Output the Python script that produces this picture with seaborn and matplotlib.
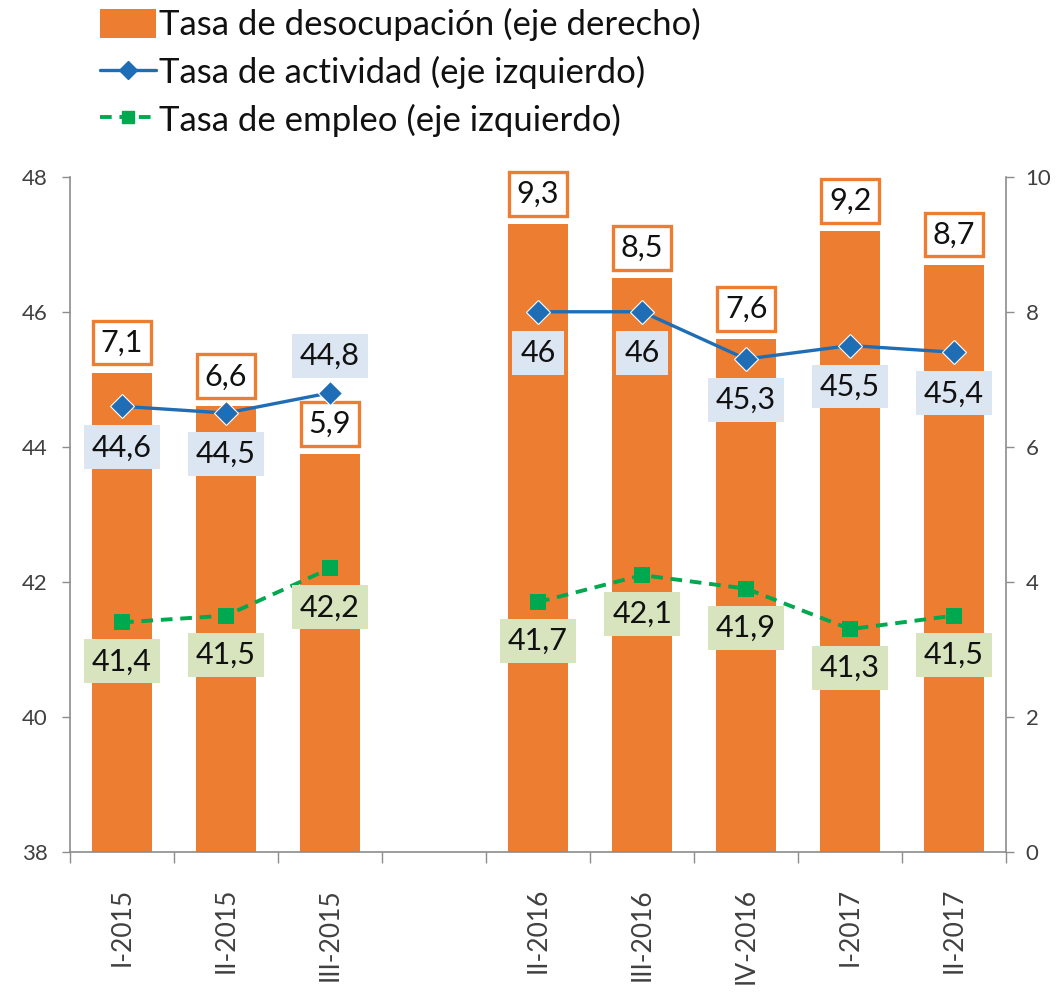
import matplotlib
matplotlib.use("Agg")
import matplotlib.pyplot as plt
from matplotlib.lines import Line2D
from matplotlib.patches import Patch
from matplotlib.ticker import FixedLocator
import pandas as pd
import seaborn as sns

# --- data ----------------------------------------------------------------
trimestres = ["I-2015", "II-2015", "III-2015",
              "II-2016", "III-2016", "IV-2016", "I-2017", "II-2017"]
desocupacion = [7.1, 6.6, 5.9, 9.3, 8.5, 7.6, 9.2, 8.7]      # eje derecho
actividad = [44.6, 44.5, 44.8, 46.0, 46.0, 45.3, 45.5, 45.4]  # eje izquierdo
empleo = [41.4, 41.5, 42.2, 41.7, 42.1, 41.9, 41.3, 41.5]     # eje izquierdo
# series break: no data between III-2015 and II-2016
tramo = [0, 0, 0, 1, 1, 1, 1, 1]
# activity label drawn above the marker instead of below
actividad_arriba = [False, False, True, False, False, False, False, False]

ticks_izq = [38, 40, 42, 44, 46, 48]
ticks_der = [0, 2, 4, 6, 8, 10]

NARANJA = "#ED7D31"
AZUL = "#1F6DB5"
VERDE = "#00A850"
GRIS = "#8C8C8C"
TEXTO = "#404040"

sns.set_style("white")
plt.rcParams["font.family"] = ["Lato", "DejaVu Sans"]

df = pd.DataFrame({
    "trimestre": trimestres,
    "desocupacion": desocupacion,
    "actividad": actividad,
    "empleo": empleo,
    "tramo": tramo,
})
# one empty slot left for the gap between the two segments
df["pos"] = df.index + df["tramo"]
n_slots = int(df["pos"].max()) + 1


def coma(v):
    return f"{v:g}".replace(".", ",")


fig = plt.figure(figsize=(10.58, 9.94), dpi=100)
ax = fig.add_axes([0.0662, 0.1429, 0.8848, 0.6793])
ax_der = ax.twinx()

# bars on the right axis, drawn behind the lines
sns.barplot(data=df, x="pos", y="desocupacion", native_scale=True,
            width=0.58, color=NARANJA, saturation=1, linewidth=0,
            ax=ax_der)

for _, grp in df.groupby("tramo"):
    sns.lineplot(data=grp, x="pos", y="actividad", color=AZUL, lw=2.4,
                 marker="D", markersize=12, markeredgecolor="white",
                 markeredgewidth=0.8, legend=False, ax=ax)
    sns.lineplot(data=grp, x="pos", y="empleo", color=VERDE, lw=2.8,
                 linestyle=(0, (3, 2)), marker="s", markersize=11,
                 markeredgewidth=0, legend=False, ax=ax)

ax.set_zorder(ax_der.get_zorder() + 1)
ax.patch.set_visible(False)

ax.set_ylim(38, 48)
ax_der.set_ylim(0, 10)
ax.set_xlim(-0.5, n_slots - 0.5)
ax_der.set_xlim(-0.5, n_slots - 0.5)

# data labels
caja = "square,pad=0.26"
for _, r in df.iterrows():
    ax_der.annotate(coma(r["desocupacion"]), (r["pos"], r["desocupacion"]),
                    xytext=(0, 30), textcoords="offset pixels",
                    ha="center", va="center", fontsize=22, color="#111111",
                    bbox=dict(boxstyle=caja, fc="white",
                              ec=NARANJA, lw=2.4), zorder=5)
for (_, r), arriba in zip(df.iterrows(), actividad_arriba):
    ax.annotate(coma(r["actividad"]), (r["pos"], r["actividad"]),
                xytext=(0, 37 if arriba else -41), textcoords="offset pixels",
                ha="center", va="center", fontsize=22, color="#111111",
                bbox=dict(boxstyle=caja, fc="#DCE6F2", ec="none"))
    ax.annotate(coma(r["empleo"]), (r["pos"], r["empleo"]),
                xytext=(0, -39), textcoords="offset pixels",
                ha="center", va="center", fontsize=22, color="#111111",
                bbox=dict(boxstyle=caja, fc="#D7E4BD", ec="none"))

# axes styling
for a in (ax, ax_der):
    for s in a.spines.values():
        s.set_visible(False)
ax.spines["left"].set_visible(True)
ax.spines["bottom"].set_visible(True)
ax_der.spines["right"].set_visible(True)
for s in (ax.spines["left"], ax.spines["bottom"], ax_der.spines["right"]):
    s.set_color(GRIS)
    s.set_linewidth(1.2)

ax.set_yticks(ticks_izq)
ax_der.set_yticks(ticks_der)
ax.tick_params(axis="y", direction="out", length=6, width=1, color=GRIS,
               labelsize=16, labelcolor=TEXTO, pad=10, left=True)
ax_der.tick_params(axis="y", direction="out", length=6, width=1, color=GRIS,
                   labelsize=16, labelcolor=TEXTO, pad=8, right=True)

ax.set_xticks(df["pos"])
ax.set_xticklabels(df["trimestre"], rotation=90)
ax.xaxis.set_minor_locator(FixedLocator([i - 0.5 for i in range(n_slots + 1)]))
ax.tick_params(axis="x", which="major", length=0, labelsize=19,
               labelcolor=TEXTO, pad=26)
ax.tick_params(axis="x", which="minor", direction="out", length=8, width=1,
               color=GRIS, bottom=True)
ax_der.tick_params(axis="x", bottom=False, labelbottom=False)
ax.set_xlabel("")
ax.set_ylabel("")
ax_der.set_xlabel("")
ax_der.set_ylabel("")

handles = [
    Patch(facecolor=NARANJA, edgecolor="none"),
    Line2D([], [], color=AZUL, lw=2.4, marker="D", markersize=9),
    Line2D([], [], color=VERDE, lw=2.8, linestyle=(0, (3, 2)), marker="s",
           markersize=9),
]
labels = ["Tasa de desocupación (eje derecho)",
          "Tasa de actividad (eje izquierdo)",
          "Tasa de empleo (eje izquierdo)"]
fig.legend(handles, labels, loc="upper left", bbox_to_anchor=(0.0945, 0.992),
           frameon=False, fontsize=25, handlelength=1.6, handleheight=0.9,
           handletextpad=0.1, labelspacing=0.42, borderpad=0,
           borderaxespad=0, labelcolor="#111111")

fig.savefig("out.png", dpi=100)
